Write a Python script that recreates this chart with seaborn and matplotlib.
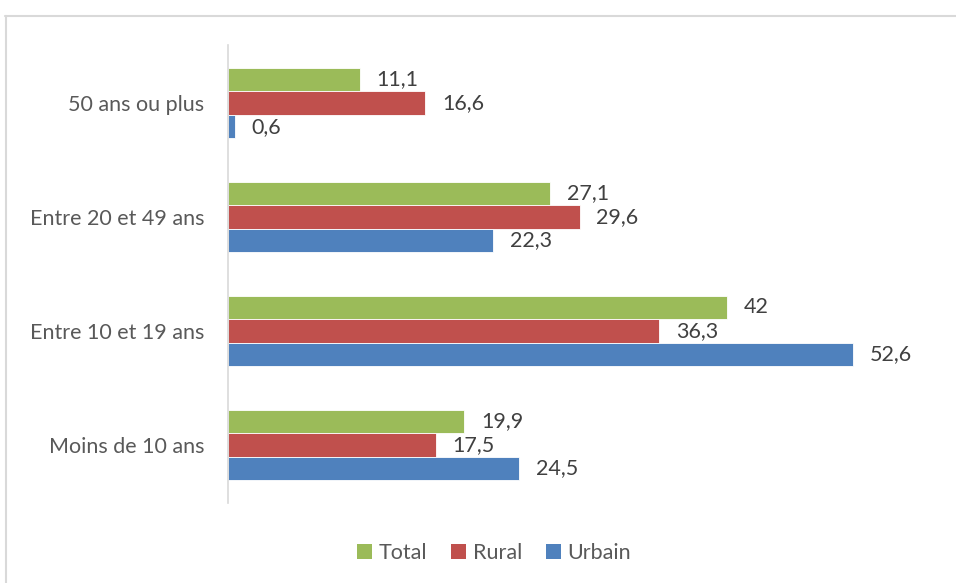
import pandas as pd
import matplotlib.pyplot as plt
import seaborn as sns
from matplotlib.lines import Line2D
from matplotlib.patches import Patch

# Data
categories = ["50 ans ou plus", "Entre 20 et 49 ans", "Entre 10 et 19 ans", "Moins de 10 ans"]
series = ["Total", "Rural", "Urbain"]
total = [11.1, 27.1, 42.0, 19.9]
rural = [16.6, 29.6, 36.3, 17.5]
urbain = [0.6, 22.3, 52.6, 24.5]
label_total = ["11,1", "27,1", "42", "19,9"]
label_rural = ["16,6", "29,6", "36,3", "17,5"]
label_urbain = ["0,6", "22,3", "52,6", "24,5"]

colors = ["#9BBB59", "#C0504D", "#4F81BD"]

# Long form table for seaborn
rows = []
for name, vals in zip(series, [total, rural, urbain]):
    for cat, v in zip(categories, vals):
        rows.append({"Catégorie": cat, "Série": name, "Valeur": v})
df = pd.DataFrame(rows)

sns.set_style("white")
plt.rcParams['font.family'] = ['Lato', 'DejaVu Sans']

fig = plt.figure(figsize=(9.56, 5.83), dpi=100)
ax = fig.add_axes([228 / 956, 1 - 503 / 583, (941 - 228) / 956, (503 - 45) / 583])

sns.barplot(
    data=df, y="Catégorie", x="Valeur", hue="Série",
    order=categories, hue_order=series, palette=colors,
    orient="h", width=0.62, ax=ax, legend=False,
    edgecolor="white", linewidth=0.6, saturation=1,
)

# Data labels with comma decimals
for cont, labs in zip(ax.containers, [label_total, label_rural, label_urbain]):
    ax.bar_label(cont, labels=labs, padding=12, fontsize=15.5, color="#404040")

ax.set_xlim(0, 60)
ax.set_ylim(3.51, -0.51)
ax.set_xlabel("")
ax.set_ylabel("")
ax.set_xticks([])
ax.tick_params(axis="y", length=0, pad=17, labelsize=15.5, labelcolor="#595959")
for side in ["top", "right", "bottom"]:
    ax.spines[side].set_visible(False)
ax.spines["left"].set_color("#D9D9D9")
ax.spines["left"].set_linewidth(1.2)

# Legend at bottom
handles = [Patch(facecolor=c, edgecolor="none") for c in colors]
fig.legend(handles, series, loc="center", bbox_to_anchor=(494 / 956, 1 - 553 / 583),
           ncol=3, frameon=False, fontsize=15.5, labelcolor="#595959",
           handlelength=0.7, handleheight=0.7, handletextpad=0.3, columnspacing=1.1)

# Outer chart frame (top and left edges visible)
fig.add_artist(Line2D([5 / 956, 1.0], [1 - 16 / 583, 1 - 16 / 583], transform=fig.transFigure,
                      color="#D9D9D9", linewidth=1.5))
fig.add_artist(Line2D([6 / 956, 6 / 956], [0.0, 1 - 16 / 583], transform=fig.transFigure,
                      color="#D9D9D9", linewidth=1.5))

fig.savefig("out.png", dpi=100, facecolor="white")
